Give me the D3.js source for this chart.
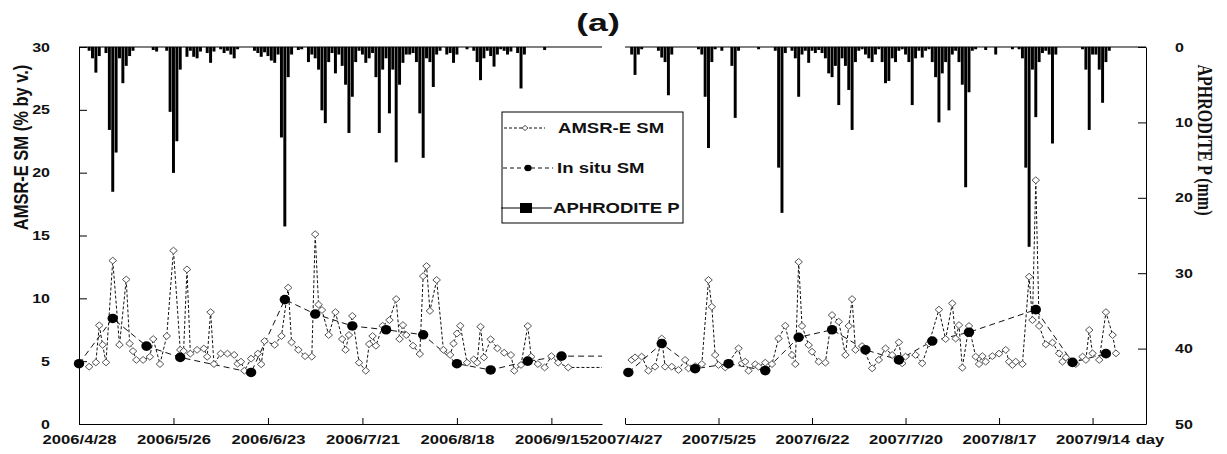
<!DOCTYPE html>
<meta charset="utf-8">
<style>
    body { margin: 0; background: #fff; }
    text {
        font-family: "Liberation Sans", Arial, sans-serif;
        font-weight: bold;
        fill: #111;
    }
    .axis path, .axis line { stroke: #000; stroke-width: 1; }
</style>
<svg width="1227" height="454"></svg>
<script src="https://cdn.jsdelivr.net/npm/d3@7"></script>
<script>

    // daily APHRODITE precipitation (mm), first value = first day of the panel
    var precip2006 = [
        0, 0, 0, 0.5, 1.5, 3.4, 1.2, 0, 0.8, 11,
        19.2, 14, 1.5, 4.8, 2.5, 1.2, 0.5, 0, 0, 0,
        0, 0, 0.4, 0.6, 0, 0, 0.5, 8.6, 16.7, 12.5,
        3, 0, 1.3, 0.5, 1.3, 1.5, 0.6, 0, 0.8, 2.1,
        0.6, 0, 0.3, 0.8, 0.5, 1.0, 1.5, 0.3, 0, 0,
        0, 0, 0.5, 0.8, 1.3, 0.7, 1.2, 1.8, 2.1, 1.0,
        12, 23.8, 4, 1, 0, 0.4, 0.3, 0, 2, 1.0,
        1.5, 3, 8.4, 10.1, 2, 0.8, 3.5, 1, 2.5, 5,
        11.4, 6.6, 2, 0.5, 1, 2.1, 1.5, 0.8, 4, 11.4,
        3, 1.5, 8.8, 3, 15.3, 5, 2.1, 1, 1, 0.8,
        2, 8.8, 14.7, 1.5, 2, 5.3, 1, 0.5, 0, 1,
        0.8, 2.1, 1, 0, 0, 0.3, 0, 0.5, 2, 4.4,
        1.5, 0.5, 1.2, 2.6, 1, 0.3, 0.5, 1, 0.6, 0,
        0.8, 5.5, 1, 0, 0, 0, 0, 0, 0.4, 0,
        0, 0, 0, 0, 0, 0, 0, 0, 0, 0,
        0, 0, 0, 0, 0, 0
    ];
    var precip2007 = [
        0, 0, 1, 3.7, 1, 0.3, 0, 0, 0, 0,
        0.5, 1.4, 2, 6.4, 1, 0, 0, 0, 0, 0,
        0, 0, 0.3, 1, 6.6, 13.4, 2, 0.3, 0, 0.5,
        0, 0, 2.5, 9.4, 0.5, 0, 0, 0, 0, 0,
        0.3, 0, 0, 0, 0, 0.5, 16, 22, 0.8, 0,
        0.5, 1.5, 6.6, 1, 0.5, 2.1, 0.5, 0.8, 0.4, 0.8,
        1.5, 3.5, 4, 2.5, 7.7, 1.5, 2.5, 5.7, 11, 2,
        0.5, 0.3, 1, 1.5, 2, 1, 0.3, 2, 4.8, 4.5,
        1.5, 2, 0.5, 0.3, 1, 2, 7.7, 1.5, 0.5, 1.4,
        0.5, 0.3, 2, 4, 10, 3.5, 2, 8.4, 1, 0.5,
        2, 5, 18.6, 6, 0.5, 0.3, 0, 0, 0.4, 0,
        0, 1, 0, 0, 0, 0, 0.3, 0, 0.3, 1.5,
        16, 26.5, 3, 9.3, 2, 0.8, 0.5, 1, 12.8, 1,
        0, 0, 0, 0, 0, 0, 0, 0.3, 3, 11,
        1, 1, 3, 7.4, 2, 0.5, 0, 0, 0, 0,
        0, 0, 0, 0, 0, 0, 0
    ];

    // AMSR-E soil moisture (% by v.)
    var amsr2006 = [
        ["5/1", 4.56], ["5/3", 4.9], ["5/4", 7.85], ["5/5", 6.3], ["5/6", 4.9], ["5/8", 13.0],
        ["5/10", 6.3], ["5/12", 11.5], ["5/13", 6.4], ["5/14", 5.8], ["5/15", 5.1], ["5/17", 5.1],
        ["5/19", 5.35], ["5/20", 6.76], ["5/22", 4.77], ["5/24", 7.0], ["5/26", 13.8], ["5/28", 5.9],
        ["5/29", 5.8], ["5/30", 12.3], ["5/31", 5.6], ["6/2", 5.9], ["6/4", 6.0], ["6/5", 5.35],
        ["6/6", 8.9], ["6/7", 4.77], ["6/9", 5.6], ["6/11", 5.6], ["6/13", 5.5], ["6/14", 4.8],
        ["6/15", 4.96], ["6/16", 4.24], ["6/18", 5.2], ["6/20", 5.6], ["6/21", 4.75], ["6/22", 6.6],
        ["6/25", 6.3], ["6/27", 7.0], ["6/29", 10.85], ["6/30", 6.5], ["7/2", 5.9], ["7/4", 5.4],
        ["7/6", 5.36], ["7/7", 15.1], ["7/8", 9.5], ["7/9", 9.07], ["7/11", 7.08], ["7/13", 8.9],
        ["7/15", 6.76], ["7/16", 5.9], ["7/17", 7.08], ["7/18", 8.6], ["7/20", 4.88], ["7/22", 4.24],
        ["7/23", 6.36], ["7/24", 7.0], ["7/25", 6.23], ["7/27", 7.82], ["7/29", 8.27], ["7/31", 9.94],
        ["8/1", 6.76], ["8/2", 7.87], ["8/3", 7.08], ["8/5", 6.23], ["8/7", 5.57], ["8/8", 11.77],
        ["8/9", 12.57], ["8/10", 9.0], ["8/12", 11.46], ["8/14", 5.9], ["8/16", 5.5], ["8/17", 6.4],
        ["8/18", 7.2], ["8/19", 7.82], ["8/21", 4.88], ["8/23", 5.14], ["8/24", 4.88], ["8/25", 7.74],
        ["8/26", 5.3], ["8/28", 6.74], ["8/30", 6.02], ["9/1", 5.67], ["9/3", 5.49], ["9/4", 4.24],
        ["9/6", 4.7], ["9/8", 7.8], ["9/9", 5.36], ["9/11", 4.77], ["9/13", 4.5], ["9/15", 5.4],
        ["9/17", 4.88], ["9/20", 4.5]
    ];
    var amsr2007 = [
        ["4/29", 5.1], ["4/30", 5.3], ["5/2", 5.36], ["5/4", 4.24], ["5/6", 4.56], ["5/8", 6.8],
        ["5/9", 4.56], ["5/11", 4.56], ["5/13", 4.3], ["5/15", 5.1], ["5/16", 4.43], ["5/18", 4.6],
        ["5/20", 4.77], ["5/22", 11.46], ["5/23", 9.33], ["5/24", 5.49], ["5/25", 4.7], ["5/27", 4.5],
        ["5/31", 6.02], ["6/1", 4.83], ["6/2", 4.96], ["6/3", 4.24], ["6/5", 4.75], ["6/6", 4.56],
        ["6/8", 4.88], ["6/10", 4.77], ["6/12", 6.8], ["6/14", 7.82], ["6/16", 5.49], ["6/17", 4.77],
        ["6/18", 12.9], ["6/19", 7.8], ["6/21", 6.28], ["6/22", 5.75], ["6/24", 4.96], ["6/26", 4.88],
        ["6/28", 8.67], ["6/30", 8.14], ["7/2", 5.49], ["7/3", 7.8], ["7/4", 9.94], ["7/5", 5.9],
        ["7/7", 6.2], ["7/10", 4.43], ["7/12", 5.1], ["7/14", 6.02], ["7/16", 5.49], ["7/18", 6.5],
        ["7/19", 4.83], ["7/20", 5.36], ["7/23", 5.49], ["7/25", 4.83], ["7/27", 6.4], ["7/30", 9.1],
        ["8/1", 6.76], ["8/3", 9.6], ["8/4", 6.8], ["8/5", 7.87], ["8/6", 4.48], ["8/8", 7.8],
        ["8/10", 5.36], ["8/11", 4.77], ["8/12", 5.4], ["8/13", 4.96], ["8/15", 5.4], ["8/17", 5.6],
        ["8/19", 5.9], ["8/20", 4.96], ["8/21", 4.7], ["8/22", 4.96], ["8/24", 4.77], ["8/26", 11.72],
        ["8/27", 8.27], ["8/28", 19.4], ["8/29", 7.8], ["8/31", 6.34], ["9/2", 6.47], ["9/4", 5.62],
        ["9/5", 4.96], ["9/6", 5.3], ["9/9", 4.77], ["9/11", 5.36], ["9/12", 5.1], ["9/13", 7.48],
        ["9/14", 5.62], ["9/16", 5.1], ["9/18", 8.9], ["9/20", 7.08], ["9/21", 5.62]
    ];

    // in situ soil moisture (% by v.)
    var insitu2006 = [
        ["4/28", 4.8], ["5/8", 8.4], ["5/18", 6.2], ["5/28", 5.3], ["6/18", 4.1], ["6/28", 9.9],
        ["7/7", 8.75], ["7/18", 7.8], ["7/28", 7.5], ["8/8", 7.1], ["8/18", 4.8], ["8/28", 4.3],
        ["9/8", 5.0], ["9/18", 5.4]
    ];
    var insitu2007 = [
        ["4/28", 4.1], ["5/8", 6.4], ["5/18", 4.4], ["5/28", 4.8], ["6/8", 4.25], ["6/18", 6.9],
        ["6/28", 7.5], ["7/8", 5.9], ["7/18", 5.1], ["7/28", 6.6], ["8/8", 7.3], ["8/28", 9.1],
        ["9/8", 4.9], ["9/18", 5.6]
    ];

    var ticks2006 = ["4/28", "5/26", "6/23", "7/21", "8/18", "9/15"];
    var ticks2007 = ["4/27", "5/25", "6/22", "7/20", "8/17", "9/14"];
    var smTicks = [0, 5, 10, 15, 20, 25, 30];
    var pTicks = [0, 10, 20, 30, 40, 50];

    var svg = d3.select("svg");
    var K = 1.28; // the original picture is stretched sideways

    var parse = d3.timeParse("%Y/%m/%d");
    var fmt = d3.timeFormat("%Y/%-m/%-d");

    var ySM = d3.scaleLinear().domain([0, 30]).range([424, 47]);
    var yP = d3.scaleLinear().domain([0, 50]).range([47, 424]);

    function stretch(sel, k) {
        sel.each(function() {
            var t = d3.select(this);
            var x = +t.attr("x") || 0, y = +t.attr("y") || 0;
            t.attr("x", 0).attr("y", 0)
                .attr("transform", "translate(" + x + "," + y + ") scale(" + (k || K) + ",1)");
        });
    }

    var panels = [
        {year: 2006, start: "4/28", end: "9/30", range: [79, 602], precip: precip2006,
            amsr: amsr2006, insitu: insitu2006, ticks: ticks2006, extend: true},
        {year: 2007, start: "4/27", end: "9/30", range: [625, 1146], precip: precip2007,
            amsr: amsr2007, insitu: insitu2007, ticks: ticks2007, extend: false}
    ];

    var diamond = "M0,-3.4L3.8,0L0,3.4L-3.8,0Z";

    panels.forEach(function(p) {
        var d = function(s) { return parse(p.year + "/" + s); };
        var start = d(p.start);
        var x = d3.scaleTime().domain([start, d(p.end)]).range(p.range);
        var dayW = x(d3.timeDay.offset(start, 1)) - x(start);
        var g = svg.append("g");

        // precipitation bars hanging from the top
        var bars = p.precip.map(function(v, i) { return {date: d3.timeDay.offset(start, i), v: v}; })
            .filter(function(e) { return e.v > 0; });
        g.selectAll(".bar").data(bars).enter().append("rect")
            .attr("class", "bar")
            .attr("x", function(e) { return x(e.date) - dayW * 0.44; })
            .attr("y", yP(0))
            .attr("width", dayW * 0.88)
            .attr("height", function(e) { return yP(e.v) - yP(0); })
            .attr("fill", "#000");

        var line = d3.line()
            .x(function(e) { return x(e.date); })
            .y(function(e) { return ySM(e.v); });

        var amsr = p.amsr.map(function(a) { return {date: d(a[0]), v: a[1]}; });
        var insitu = p.insitu.map(function(a) { return {date: d(a[0]), v: a[1]}; });
        var amsrLine = amsr, insituLine = insitu;
        if (p.extend) {
            amsrLine = amsr.concat([{date: d(p.end), v: amsr[amsr.length - 1].v}]);
            insituLine = insitu.concat([{date: d(p.end), v: insitu[insitu.length - 1].v}]);
        }

        g.append("path").datum(amsrLine)
            .attr("d", line).attr("fill", "none")
            .attr("stroke", "#111").attr("stroke-width", 1).attr("stroke-dasharray", "3,2");
        g.append("path").datum(insituLine)
            .attr("d", line).attr("fill", "none")
            .attr("stroke", "#111").attr("stroke-width", 1).attr("stroke-dasharray", "6,4");

        g.selectAll(".amsr").data(amsr).enter().append("path")
            .attr("class", "amsr")
            .attr("d", diamond)
            .attr("transform", function(e) { return "translate(" + x(e.date) + "," + ySM(e.v) + ")"; })
            .attr("fill", "#fff").attr("stroke", "#555").attr("stroke-width", 1);

        g.selectAll(".insitu").data(insitu).enter().append("ellipse")
            .attr("class", "insitu")
            .attr("cx", function(e) { return x(e.date); })
            .attr("cy", function(e) { return ySM(e.v); })
            .attr("rx", 5.2).attr("ry", 4.8)
            .attr("fill", "#000");

        // top border
        svg.append("line")
            .attr("x1", p.range[0]).attr("x2", p.range[1])
            .attr("y1", 47).attr("y2", 47)
            .attr("stroke", "#000");

        var ax = d3.axisBottom(x)
            .tickValues(p.ticks.map(d))
            .tickFormat(fmt)
            .tickSizeInner(-6).tickSizeOuter(0).tickPadding(11);
        var axg = svg.append("g").attr("class", "axis")
            .attr("transform", "translate(0,424)")
            .call(ax);
        axg.selectAll("text").style("font-size", "13px");
        stretch(axg.selectAll("text"));
    });

    var axL = svg.append("g").attr("class", "axis")
        .attr("transform", "translate(79,0)")
        .call(d3.axisLeft(ySM).tickValues(smTicks).tickSizeInner(-8).tickSizeOuter(0).tickPadding(29));
    axL.selectAll("text").style("font-size", "12.5px");
    stretch(axL.selectAll("text"));

    var axR = svg.append("g").attr("class", "axis")
        .attr("transform", "translate(1146,0)")
        .call(d3.axisRight(yP).tickValues(pTicks).tickSizeInner(-8).tickSizeOuter(0).tickPadding(29));
    axR.selectAll("text").style("font-size", "12.5px");
    stretch(axR.selectAll("text"));

    // titles
    svg.append("text")
        .attr("text-anchor", "middle")
        .attr("transform", "translate(598,31) scale(1.55,1)")
        .style("font-size", "23px")
        .text("(a)");

    svg.append("text")
        .attr("text-anchor", "middle")
        .attr("transform", "translate(27.5,147.5) rotate(-90) scale(1," + K + ")")
        .style("font-size", "16.5px")
        .text("AMSR-E SM (% by v.)");

    svg.append("text")
        .attr("text-anchor", "middle")
        .attr("transform", "translate(1198,140) rotate(90) scale(1," + K + ")")
        .style("font-family", "'Liberation Serif', 'Times New Roman', serif")
        .style("font-size", "16px")
        .text("APHRODITE P (mm)");

    svg.append("text")
        .attr("text-anchor", "middle")
        .attr("transform", "translate(1150,444) scale(" + K + ",1)")
        .style("font-size", "13px")
        .text("day");

    // legend
    var lg = svg.append("g");
    lg.append("rect")
        .attr("x", 502).attr("y", 112).attr("width", 181).attr("height", 111)
        .attr("fill", "#fff").attr("stroke", "#000");

    lg.append("line").attr("x1", 504).attr("x2", 545).attr("y1", 128).attr("y2", 128)
        .attr("stroke", "#111").attr("stroke-dasharray", "3,2");
    lg.append("path").attr("d", "M0,-2.6L3,0L0,2.6L-3,0Z")
        .attr("transform", "translate(525,128)")
        .attr("fill", "#fff").attr("stroke", "#555");

    lg.append("line").attr("x1", 503).attr("x2", 553).attr("y1", 168).attr("y2", 168)
        .attr("stroke", "#111").attr("stroke-dasharray", "4,3");
    lg.append("ellipse").attr("cx", 528).attr("cy", 168).attr("rx", 3.6).attr("ry", 3.3)
        .attr("fill", "#000");

    lg.append("line").attr("x1", 501).attr("x2", 552).attr("y1", 208).attr("y2", 208)
        .attr("stroke", "#000");
    lg.append("rect").attr("x", 520).attr("y", 203).attr("width", 12).attr("height", 10)
        .attr("fill", "#000");

    var legendText = lg.selectAll(".lt")
        .data([["AMSR-E SM", 558, 128], ["In situ SM", 557, 168], ["APHRODITE P", 553, 208]])
        .enter().append("text")
        .attr("class", "lt")
        .attr("x", function(e) { return e[1]; })
        .attr("y", function(e) { return e[2] + 5; })
        .style("font-size", "14.5px")
        .text(function(e) { return e[0]; });
    stretch(legendText);

</script>
